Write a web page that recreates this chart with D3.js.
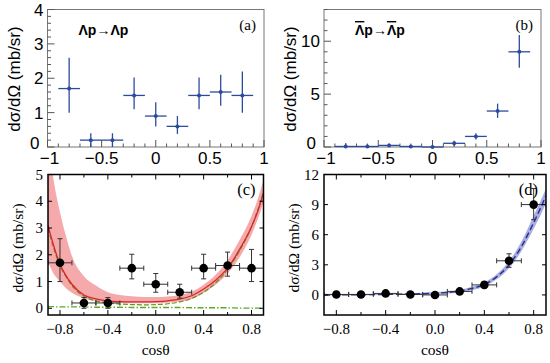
<!DOCTYPE html>
<html>
<head>
<meta charset="utf-8">
<script src="https://cdn.jsdelivr.net/npm/d3@7.9.0/dist/d3.min.js"></script>
<style>
  body { margin: 0; background: #fff; }
  svg { display: block; }
</style>
</head>
<body>
<svg id="chart" width="550" height="363"></svg>
<script>
// bin centres and half widths (same for all panels)
const binX = [-0.8, -0.6, -0.4, -0.2, 0.0, 0.2, 0.4, 0.6, 0.8];
const binHalf = 0.1;

// Lambda p -> Lambda p
const lamY = [1.7, 0.2, 0.2, 1.5, 0.9, 0.6, 1.5, 1.6, 1.5];
const lamUp = [2.6, 0.4, 0.4, 2.02, 1.3, 0.9, 2.02, 2.1, 2.2];
const lamLo = [1.0, 0.0, 0.0, 1.1, 0.6, 0.38, 1.1, 1.2, 1.0];

// anti-Lambda p -> anti-Lambda p
const alamY = [0.05, 0.05, 0.15, 0.05, 0.0, 0.35, 1.0, 3.4, 9.0];
const alamUp = [0.35, 0.25, 0.3, 0.2, 0.15, 0.6, 1.3, 4.1, 10.6];
const alamLo = [0.0, 0.0, 0.0, 0.0, 0.0, 0.1, 0.7, 2.75, 7.5];

// model curves
const curveX = [-0.9, -0.86, -0.8, -0.75, -0.7, -0.6, -0.5, -0.4, -0.3, -0.2, -0.1, 0.0, 0.1, 0.2, 0.3, 0.4, 0.5, 0.6, 0.7, 0.8, 0.85, 0.9];
const redFit   = [3.1, 2.45, 1.65, 1.22, 0.9, 0.5, 0.35, 0.28, 0.25, 0.24, 0.24, 0.25, 0.28, 0.34, 0.47, 0.72, 1.05, 1.5, 2.2, 3.05, 3.6, 4.3];
const redHigh  = [6.5, 5.0, 3.6, 2.7, 1.95, 1.2, 0.85, 0.6, 0.5, 0.45, 0.42, 0.42, 0.44, 0.5, 0.62, 0.88, 1.25, 1.8, 2.55, 3.45, 4.05, 4.8];
const redLow   = [1.75, 1.35, 1.0, 0.75, 0.58, 0.38, 0.28, 0.22, 0.2, 0.19, 0.19, 0.19, 0.21, 0.25, 0.35, 0.58, 0.88, 1.3, 1.9, 2.75, 3.3, 3.95];
const greenDash = [3.0, 2.35, 1.6, 1.18, 0.85, 0.45, 0.28, 0.2, 0.16, 0.14, 0.13, 0.14, 0.17, 0.24, 0.37, 0.6, 0.95, 1.45, 2.15, 3.05, 3.65, 4.35];
const greenDot  = [0.06, 0.06, 0.05, 0.05, 0.05, 0.05, 0.04, 0.04, 0.04, 0.03, 0.03, 0.03, 0.03, 0.03, 0.02, 0.02, 0.02, 0.02, 0.01, 0.01, 0.01, 0.01];
const blueFit  = [0.0, 0.0, 0.0, 0.01, 0.01, 0.02, 0.03, 0.05, 0.07, 0.09, 0.12, 0.17, 0.25, 0.38, 0.65, 1.05, 1.8, 3.0, 4.8, 7.2, 8.5, 9.9];
const blueHigh = [0.05, 0.05, 0.05, 0.06, 0.06, 0.07, 0.09, 0.11, 0.14, 0.17, 0.22, 0.28, 0.37, 0.52, 0.82, 1.25, 2.05, 3.35, 5.3, 7.9, 9.2, 10.6];
const blueLow  = [-0.05, -0.05, -0.05, -0.04, -0.04, -0.03, -0.03, -0.01, 0.01, 0.03, 0.05, 0.08, 0.13, 0.24, 0.48, 0.85, 1.55, 2.65, 4.35, 6.6, 7.8, 9.1];

const svg = d3.select('#chart');
const navy = '#2d4b9b';
const sans = "'Liberation Sans', Arial, sans-serif";
const serif = "'Liberation Serif', 'Times New Roman', serif";

// ---------- top panels (ROOT style) ----------
function topPanel(x0, x1, yMax, yMajor, yMinor, ys, ups, los, title, tag) {
    const x = d3.scaleLinear().domain([-1, 1]).range([x0, x1]);
    const y = d3.scaleLinear().domain([0, yMax]).range([147, 9.5]);
    const g = svg.append('g');

    g.append('rect').attr('x', x0).attr('y', 9.5).attr('width', x1 - x0).attr('height', 137.5)
        .attr('fill', 'none').attr('stroke', '#777').attr('stroke-width', 1);

    const xt = d3.range(-1, 1.001, 0.1).map(v => +v.toFixed(2));
    g.selectAll('.xt').data(xt).enter().append('line')
        .attr('x1', d => x(d)).attr('x2', d => x(d))
        .attr('y1', 147).attr('y2', d => Math.abs(d * 2 - Math.round(d * 2)) < 1e-6 ? 140 : 143.5)
        .attr('stroke', '#555');
    const yt = d3.range(0, yMax + 1e-6, yMinor).map(v => +v.toFixed(2));
    g.selectAll('.yt').data(yt).enter().append('line')
        .attr('x1', x0).attr('x2', d => Math.abs(d / yMajor - Math.round(d / yMajor)) < 1e-6 ? x0 + 7 : x0 + 3.5)
        .attr('y1', d => y(d)).attr('y2', d => y(d))
        .attr('stroke', '#555');

    g.selectAll('.xl').data([-1, -0.5, 0, 0.5, 1]).enter().append('text')
        .attr('x', d => x(d) + (d === -1 ? 2 : 0)).attr('y', 163.5)
        .attr('text-anchor', 'middle')
        .attr('font-family', sans).attr('font-size', 17)
        .text(d => d === 0 ? '0' : (d < 0 ? '\u2212' : '') + Math.abs(d));
    g.selectAll('.yl').data(d3.range(0, yMax + 1e-6, yMajor)).enter().append('text')
        .attr('x', d => d === 0 ? x0 - 8 : x0 - 4).attr('y', d => d === 0 ? y(d) + 2 : y(d) + 6)
        .attr('text-anchor', 'end')
        .attr('font-family', sans).attr('font-size', 17)
        .text(d => d);

    g.append('text')
        .attr('transform', `translate(${x0 - 28},79) rotate(-90)`)
        .attr('text-anchor', 'middle')
        .attr('font-family', sans).attr('font-size', 17)
        .text('dσ/dΩ (mb/sr)');

    g.append('text').attr('x', x0 + 31).attr('y', 35)
        .attr('font-family', sans).attr('font-size', 14).attr('font-weight', 'bold')
        .html(title);
    g.append('text').attr('x', x1 - 8).attr('y', 30).attr('text-anchor', 'end')
        .attr('font-family', serif).attr('font-size', 15)
        .text(tag);

    const pts = binX.map((b, i) => ({ x: b, y: ys[i], up: ups[i], lo: los[i] }));
    const p = g.selectAll('.pt').data(pts).enter().append('g');
    p.append('line').attr('x1', d => x(d.x - binHalf)).attr('x2', d => x(d.x + binHalf))
        .attr('y1', d => y(d.y)).attr('y2', d => y(d.y)).attr('stroke', navy).attr('stroke-width', 1.3);
    p.append('line').attr('x1', d => x(d.x)).attr('x2', d => x(d.x))
        .attr('y1', d => y(d.up)).attr('y2', d => y(d.lo)).attr('stroke', navy).attr('stroke-width', 1.3);
    p.append('circle').attr('cx', d => x(d.x)).attr('cy', d => y(d.y)).attr('r', 2).attr('fill', navy);
}

topPanel(47.5, 264, 4, 1, 0.2, lamY, lamUp, lamLo, 'Λp→Λp', '(a)');
topPanel(324, 541, 13, 5, 1, alamY, alamUp, alamLo,
    '<tspan text-decoration="overline">Λ</tspan>p→<tspan text-decoration="overline">Λ</tspan>p', '(b)');

// ---------- bottom panels (serif style) ----------
function bottomPanel(x0, x1, yDom, yTicks, ys, ups, los, tag, drawCurves) {
    const x = d3.scaleLinear().domain([-0.9, 0.9]).range([x0, x1]);
    const y = d3.scaleLinear().domain(yDom).range([315, 174.5]);
    const g = svg.append('g');
    const id = 'clip' + tag.replace(/\W/g, '');
    g.append('clipPath').attr('id', id).append('rect')
        .attr('x', x0).attr('y', 174.5).attr('width', x1 - x0).attr('height', 140.5);

    const cg = g.append('g').attr('clip-path', `url(#${id})`);
    drawCurves(cg, x, y);

    const pts = binX.map((b, i) => ({ x: b, y: ys[i], up: ups[i], lo: los[i] }));
    const p = cg.selectAll('.pt').data(pts).enter().append('g').attr('stroke', '#333').attr('stroke-width', 1);
    p.append('line').attr('x1', d => x(d.x - binHalf)).attr('x2', d => x(d.x + binHalf))
        .attr('y1', d => y(d.y)).attr('y2', d => y(d.y));
    p.append('line').attr('x1', d => x(d.x)).attr('x2', d => x(d.x))
        .attr('y1', d => y(d.up)).attr('y2', d => y(d.lo));
    [d => d.x - binHalf, d => d.x + binHalf].forEach(f => {
        p.append('line').attr('x1', d => x(f(d))).attr('x2', d => x(f(d)))
            .attr('y1', d => y(d.y) - 2.5).attr('y2', d => y(d.y) + 2.5);
    });
    p.append('line').attr('x1', d => x(d.x) - 2.5).attr('x2', d => x(d.x) + 2.5)
        .attr('y1', d => y(d.up)).attr('y2', d => y(d.up));
    p.append('line').attr('x1', d => x(d.x) - 2.5).attr('x2', d => x(d.x) + 2.5)
        .attr('y1', d => y(d.lo)).attr('y2', d => y(d.lo));
    p.append('circle').attr('cx', d => x(d.x)).attr('cy', d => y(d.y)).attr('r', 4.3)
        .attr('fill', '#000').attr('stroke', 'none');

    g.append('rect').attr('x', x0).attr('y', 174.5).attr('width', x1 - x0).attr('height', 140.5)
        .attr('fill', 'none').attr('stroke', '#000').attr('stroke-width', 1.5);

    const xt = [-0.8, -0.6, -0.4, -0.2, 0, 0.2, 0.4, 0.6, 0.8];
    g.selectAll('.xt').data(xt).enter().append('g').each(function (d, i) {
        const len = i % 2 === 0 ? 5 : 3;
        d3.select(this).append('line').attr('x1', x(d)).attr('x2', x(d)).attr('y1', 315).attr('y2', 315 - len).attr('stroke', '#000');
        d3.select(this).append('line').attr('x1', x(d)).attr('x2', x(d)).attr('y1', 174.5).attr('y2', 174.5 + len).attr('stroke', '#000');
    });
    g.selectAll('.yt').data(yTicks).enter().append('g').each(function (d) {
        d3.select(this).append('line').attr('x1', x0).attr('x2', x0 + 4).attr('y1', y(d)).attr('y2', y(d)).attr('stroke', '#000');
        d3.select(this).append('line').attr('x1', x1).attr('x2', x1 - 4).attr('y1', y(d)).attr('y2', y(d)).attr('stroke', '#000');
    });

    g.selectAll('.xl').data([-0.8, -0.4, 0, 0.4, 0.8]).enter().append('text')
        .attr('x', d => x(d)).attr('y', 334).attr('text-anchor', 'middle')
        .attr('font-family', serif).attr('font-size', 15)
        .text(d => (d < 0 ? '\u2212' : '') + Math.abs(d).toFixed(1));
    g.selectAll('.yl').data(yTicks).enter().append('text')
        .attr('x', x0 - 5).attr('y', d => y(d) + 5).attr('text-anchor', 'end')
        .attr('font-family', serif).attr('font-size', 15)
        .text(d => d);
    g.append('text').attr('x', (x0 + x1) / 2).attr('y', 355).attr('text-anchor', 'middle')
        .attr('font-family', serif).attr('font-size', 15.5).text('cosθ');
    g.append('text')
        .attr('transform', `translate(${x0 - 25},248) rotate(-90)`)
        .attr('text-anchor', 'middle')
        .attr('font-family', serif).attr('font-size', 15.5)
        .text('dσ/dΩ (mb/sr)');
    g.append('text').attr('x', x1 - 8).attr('y', 195).attr('text-anchor', 'end')
        .attr('font-family', serif).attr('font-size', 16.5).text(tag);
}

const cpts = (arr) => curveX.map((c, i) => [c, arr[i]]);

bottomPanel(48, 263.5, [-0.25, 5], [0, 1, 2, 3, 4, 5], lamY, lamUp, lamLo, '(c)', (g, x, y) => {
    const area = d3.area().x((d, i) => x(curveX[i])).y0((d, i) => y(redLow[i])).y1(d => y(d)).curve(d3.curveMonotoneX);
    g.append('path').datum(redHigh).attr('d', area).attr('fill', '#f4a0a2').attr('opacity', 0.9);
    const line = d3.line().x(d => x(d[0])).y(d => y(d[1])).curve(d3.curveMonotoneX);
    g.append('path').datum(cpts(greenDot)).attr('d', line).attr('fill', 'none')
        .attr('stroke', '#5aaa28').attr('stroke-width', 1.3).attr('stroke-dasharray', '6,2,1.5,2');
    g.append('path').datum(cpts(greenDash)).attr('d', line).attr('fill', 'none')
        .attr('stroke', '#6c8f1e').attr('stroke-width', 1.2).attr('stroke-dasharray', '5,2');
    g.append('path').datum(cpts(redFit)).attr('d', line).attr('fill', 'none')
        .attr('stroke', '#d9262a').attr('stroke-width', 1.3);
});

bottomPanel(324, 546, [-2, 12], [0, 3, 6, 9, 12], alamY, alamUp, alamLo, '(d)', (g, x, y) => {
    const area = d3.area().x((d, i) => x(curveX[i])).y0((d, i) => y(blueLow[i])).y1(d => y(d)).curve(d3.curveMonotoneX);
    g.append('path').datum(blueHigh).attr('d', area).attr('fill', '#9b9fdc').attr('opacity', 0.85);
    const line = d3.line().x(d => x(d[0])).y(d => y(d[1])).curve(d3.curveMonotoneX);
    g.append('path').datum(cpts(blueFit)).attr('d', line).attr('fill', 'none')
        .attr('stroke', '#24318a').attr('stroke-width', 1.4).attr('stroke-dasharray', '6,3');
});
</script>
</body>
</html>
